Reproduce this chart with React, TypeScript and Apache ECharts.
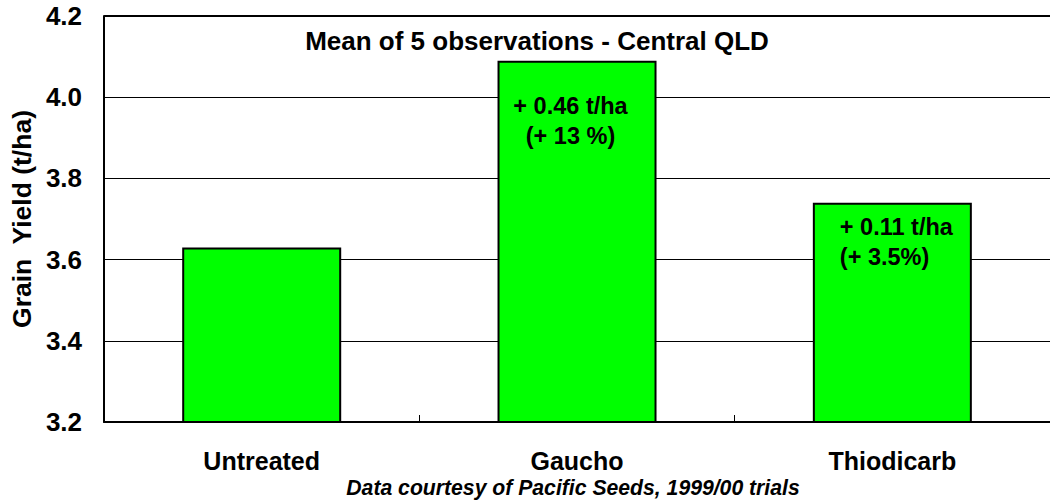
import React, { useEffect, useRef } from "react";
import * as echarts from "echarts";

const categories = ["Untreated", "Gaucho", "Thiodicarb"];
const yieldValues = [3.63, 4.09, 3.74];
const annotations = ["", "+ 0.46 t/ha\n(+ 13 %)", "+ 0.11 t/ha\n(+ 3.5%)"];
const yMin = 3.2;
const yMax = 4.2;
const yStep = 0.2;
const chartTitle = "Mean of 5 observations - Central QLD";
const footnote = "Data courtesy of Pacific Seeds, 1999/00 trials";
const yAxisName = "Grain  Yield (t/ha)";

const FONT = "'Liberation Sans', Arial, Helvetica, sans-serif";

export default function App() {
  const ref = useRef<HTMLDivElement>(null);
  useEffect(() => {
    if (!ref.current) return;
    const chart = echarts.init(ref.current, undefined, { renderer: "svg" });
    const labelPlacement: any[] = [
      null,
      { position: [73, 30], align: "center" },
      { position: [27, 9], align: "left" },
    ];
    const data = yieldValues.map((v, i) => {
      const item: any = { value: v };
      if (annotations[i]) {
        item.label = {
          show: true,
          formatter: annotations[i],
          position: labelPlacement[i].position,
          align: labelPlacement[i].align,
          verticalAlign: "top",
          fontFamily: FONT,
          fontWeight: "bold",
          fontSize: 23.5,
          lineHeight: 30,
          color: "#000",
        };
      }
      return item;
    });
    chart.setOption({
      animation: false,
      backgroundColor: "#fff",
      grid: {
        left: 104,
        width: 953,
        top: 16,
        bottom: 79,
        show: false,
      },
      xAxis: {
        type: "category",
        data: categories,
        axisLine: { show: true, lineStyle: { color: "#000", width: 2 } },
        axisTick: { show: true, inside: true, length: 7, lineStyle: { color: "#000", width: 1 } },
        splitLine: { show: false },
        axisLabel: {
          fontFamily: FONT,
          fontWeight: "bold",
          fontSize: 25,
          color: "#000",
          margin: 26,
        },
      },
      yAxis: {
        type: "value",
        min: yMin,
        max: yMax,
        interval: yStep,
        name: yAxisName,
        nameLocation: "middle",
        nameGap: 67,
        nameTextStyle: {
          fontFamily: FONT,
          fontWeight: "bold",
          fontSize: 26.5,
          color: "#000",
        },
        axisLine: { show: true, lineStyle: { color: "#000", width: 2 } },
        axisTick: { show: false },
        axisLabel: {
          fontFamily: FONT,
          fontWeight: "bold",
          fontSize: 26,
          color: "#000",
          margin: 22,
          formatter: (v: number) => v.toFixed(1),
        },
        splitLine: { show: true, lineStyle: { color: "#000", width: 1 } },
      },
      series: [
        {
          type: "bar",
          data,
          barWidth: 159,
          itemStyle: { color: "#00ff00", borderColor: "#000", borderWidth: 2 },
          markLine: {
            silent: true,
            symbol: "none",
            label: { show: false },
            lineStyle: { color: "#000", width: 2, type: "solid" },
            data: [{ yAxis: yMax }],
          },
        },
      ],
      graphic: [
        {
          type: "text",
          x: 537,
          y: 41,
          style: {
            text: chartTitle,
            fontFamily: FONT,
            fontWeight: "bold",
            fontSize: 26,
            fill: "#000",
            align: "center",
            verticalAlign: "middle",
          },
        },
        {
          type: "text",
          x: 573,
          y: 487,
          style: {
            text: footnote,
            fontFamily: FONT,
            fontWeight: "bold",
            fontStyle: "italic",
            fontSize: 21.2,
            fill: "#000",
            align: "center",
            verticalAlign: "middle",
          },
        },
      ],
    });
    return () => chart.dispose();
  }, []);
  return (
    <div
      ref={ref}
      style={{ position: "absolute", left: 0, top: 0, width: 1050, height: 501, overflow: "hidden" }}
    />
  );
}
